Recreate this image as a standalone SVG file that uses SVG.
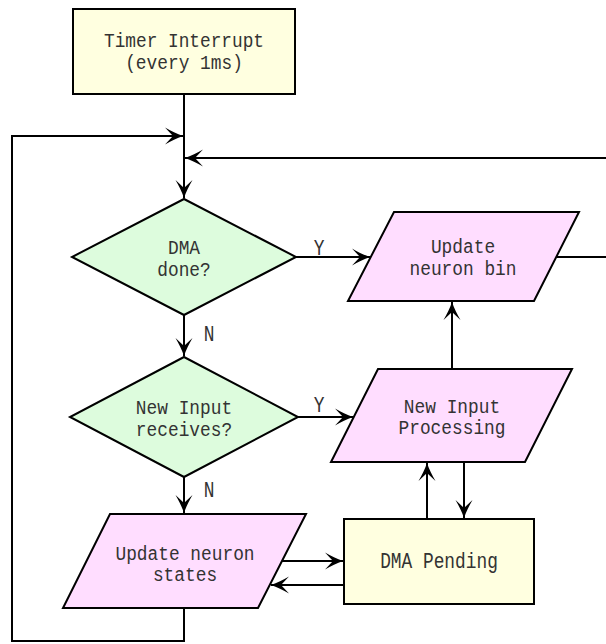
<svg xmlns="http://www.w3.org/2000/svg" width="606" height="644" viewBox="0 0 606 644">
<style>
.box{fill:#FFFFE0;stroke:#000;stroke-width:2}
.dec{fill:#DDFCDD;stroke:#000;stroke-width:2}
.io{fill:#FFDDFF;stroke:#000;stroke-width:2}
.t{font-family:"Liberation Mono","DejaVu Sans Mono",monospace;font-size:20px;fill:#333;text-anchor:middle}
.l{font-size:22px}
.c{fill:none;stroke:#000;stroke-width:2}
</style>
<defs>
<marker id="ah" markerUnits="userSpaceOnUse" markerWidth="22" markerHeight="20" viewBox="-19 -10 22 20" refX="0" refY="0" orient="auto">
<path d="M0,0 C-6,-2 -12,-5 -18,-8.5 L-10,0 L-18,8.5 C-12,5 -6,2 0,0 Z" fill="#000"/>
</marker>
</defs>
<rect width="606" height="644" fill="#fff"/>
<g id="connectors">
<path class="c" d="M184,94 V198" marker-end="url(#ah)"/>
<path class="c" d="M184,608 V641 H12 V136 H183" marker-end="url(#ah)"/>
<path class="c" d="M557,257 H609 V158 H185" marker-end="url(#ah)"/>
<path class="c" d="M296,257 H370" marker-end="url(#ah)"/>
<path class="c" d="M184,315 V356" marker-end="url(#ah)"/>
<path class="c" d="M298,417 H353" marker-end="url(#ah)"/>
<path class="c" d="M452,369 V302" marker-end="url(#ah)"/>
<path class="c" d="M427,519 V463" marker-end="url(#ah)"/>
<path class="c" d="M464,462 V518" marker-end="url(#ah)"/>
<path class="c" d="M184,477 V513" marker-end="url(#ah)"/>
<path class="c" d="M282,561 H343" marker-end="url(#ah)"/>
<path class="c" d="M344,585 H271" marker-end="url(#ah)"/>
<text class="t l" x="319" y="255" textLength="10.7" lengthAdjust="spacingAndGlyphs">Y</text>
<text class="t l" x="209" y="341" textLength="10.7" lengthAdjust="spacingAndGlyphs">N</text>
<text class="t l" x="319" y="412" textLength="10.7" lengthAdjust="spacingAndGlyphs">Y</text>
<text class="t l" x="209" y="497" textLength="10.7" lengthAdjust="spacingAndGlyphs">N</text>
</g>
<g id="timer">
<rect class="box" x="73" y="9" width="222" height="85"/>
<text class="t" x="184" y="47" textLength="160" lengthAdjust="spacingAndGlyphs">Timer Interrupt</text>
<text class="t" x="184" y="68.5" textLength="117.7" lengthAdjust="spacingAndGlyphs">(every 1ms)</text>
</g>
<g id="dma_done">
<polygon class="dec" points="184,199 296,257 184,315 72,257"/>
<text class="t" x="184" y="253.5" textLength="32.1" lengthAdjust="spacingAndGlyphs">DMA</text>
<text class="t" x="184" y="275.5" textLength="53.5" lengthAdjust="spacingAndGlyphs">done?</text>
</g>
<g id="update_bin">
<polygon class="io" points="394,212 579,212 534,301 348,301"/>
<text class="t" x="463" y="253" textLength="64.2" lengthAdjust="spacingAndGlyphs">Update</text>
<text class="t" x="463" y="275" textLength="107" lengthAdjust="spacingAndGlyphs">neuron bin</text>
</g>
<g id="new_input">
<polygon class="dec" points="184,357 298,417 184,477 70,417"/>
<text class="t" x="184" y="413.5" textLength="96.3" lengthAdjust="spacingAndGlyphs">New Input</text>
<text class="t" x="184" y="435.5" textLength="96.3" lengthAdjust="spacingAndGlyphs">receives?</text>
</g>
<g id="input_processing">
<polygon class="io" points="378,369 572,369 525,462 331,462"/>
<text class="t" x="452" y="412.5" textLength="96.3" lengthAdjust="spacingAndGlyphs">New Input</text>
<text class="t" x="452" y="434" textLength="107" lengthAdjust="spacingAndGlyphs">Processing</text>
</g>
<g id="update_states">
<polygon class="io" points="110,514 306,514 258,608 63,608"/>
<text class="t" x="185" y="559.5" textLength="139.1" lengthAdjust="spacingAndGlyphs">Update neuron</text>
<text class="t" x="185" y="580.5" textLength="64.2" lengthAdjust="spacingAndGlyphs">states</text>
</g>
<g id="dma_pending">
<rect class="box" x="344" y="519" width="190" height="85"/>
<text class="t l" x="439" y="568" textLength="117.7" lengthAdjust="spacingAndGlyphs">DMA Pending</text>
</g>
</svg>
